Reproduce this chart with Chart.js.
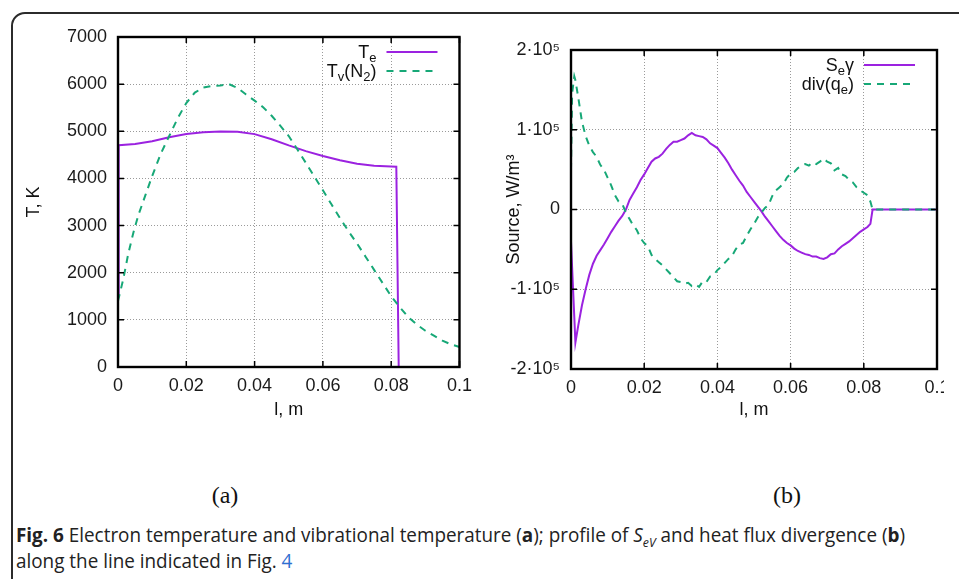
<!DOCTYPE html>
<html>
<head>
<meta charset="utf-8">
<script src="https://cdn.jsdelivr.net/npm/chart.js@4.4.0/dist/chart.umd.min.js"></script>
<style>
  html, body { margin: 0; padding: 0; background: #fff; width: 959px; height: 579px; overflow: hidden; }
  #frame { position: absolute; left: 11px; top: 12px; width: 1000px; height: 640px; border: 2px solid #2b2b2b; border-radius: 14px; }
  #tempChart { position: absolute; left: 0; top: 0; }
  #rightWrap { position: absolute; left: 480px; top: 0; width: 464px; height: 430px; overflow: hidden; }
  .panel { position: absolute; top: 482px; font-family: "Liberation Serif", serif; font-size: 24px; color: #111; transform: translateX(-50%); }
  #caption { position: absolute; left: 16px; top: 522px; font-family: "Open Sans", sans-serif; font-size: 20px; line-height: 26px; color: #222; white-space: nowrap; transform-origin: 0 0; }
  #caption sub { font-size: 13px; line-height: 0; }
  #caption .link { color: #2f6fd0; }
</style>
</head>
<body>
<div id="frame"></div>
<canvas id="tempChart" width="480" height="430"></canvas>
<div id="rightWrap"><canvas id="sourceChart" width="479" height="430"></canvas></div>
<div class="panel" style="left:225px">(a)</div>
<div class="panel" style="left:787px">(b)</div>
<div id="caption"><b>Fig. 6</b> Electron temperature and vibrational temperature (<b>a</b>); profile of <i>S<sub>eV</sub></i> and heat flux divergence (<b>b</b>)<br>along the line indicated in Fig. <span class="link">4</span></div>

<script>
// ---- data (a): temperatures along the line ----
const teLength = [0, 0.0002, 0.005, 0.01, 0.015, 0.02, 0.025, 0.03, 0.035, 0.04,
  0.045, 0.05, 0.055, 0.06, 0.065, 0.07, 0.075, 0.08, 0.0815, 0.0822];
const teTemp = [1500, 4705, 4730, 4790, 4875, 4940, 4982, 4997, 4990, 4940,
  4830, 4700, 4580, 4475, 4385, 4310, 4268, 4255, 4250, 0];

const tvLength = [0, 0.0015, 0.003, 0.0045, 0.006, 0.008, 0.01,
  0.0125, 0.015, 0.0175, 0.02, 0.0225, 0.025, 0.0275, 0.03, 0.0325, 0.035,
  0.0375, 0.04, 0.0425, 0.045, 0.0475, 0.05, 0.0525, 0.055, 0.0575, 0.06,
  0.0625, 0.065, 0.0675, 0.07, 0.0725, 0.075, 0.0775, 0.08, 0.0825, 0.085,
  0.0875, 0.09, 0.0925, 0.095, 0.0975, 0.1];
const tvTemp = [1400, 1850, 2400, 2850, 3230, 3640, 4050,
  4520, 4900, 5280, 5600, 5820, 5930, 5960, 5970, 6000, 5920,
  5780, 5650, 5510, 5330, 5120, 4900, 4620, 4330, 4040, 3750,
  3450, 3160, 2880, 2620, 2340, 2060, 1780, 1500, 1270, 1060,
  900, 770, 665, 560, 480, 425];

// ---- data (b): source terms, W/m^3 ----
const sourceLength = [0, 0.0003, 0.0009, 0.0012,
  0.002, 0.003, 0.004, 0.005, 0.006, 0.007, 0.008, 0.009, 0.010, 0.011,
  0.012, 0.013, 0.014, 0.015, 0.016, 0.017, 0.018, 0.019, 0.020, 0.021,
  0.022, 0.023, 0.024, 0.025, 0.026, 0.027, 0.028, 0.029, 0.030, 0.031,
  0.032, 0.033, 0.034, 0.035, 0.036, 0.037, 0.038, 0.039, 0.040, 0.041,
  0.042, 0.043, 0.044, 0.045, 0.046, 0.047, 0.048, 0.049, 0.050, 0.051,
  0.052, 0.053, 0.054, 0.055, 0.056, 0.057, 0.058, 0.059, 0.060, 0.061,
  0.062, 0.063, 0.064, 0.065, 0.066, 0.067, 0.068, 0.069, 0.070, 0.071,
  0.072, 0.073, 0.074, 0.075, 0.076, 0.077, 0.078, 0.079, 0.080, 0.081,
  0.0818, 0.0824, 0.1];
const sevSource = [-40000, -72000, -135000, -167000,
  -145000, -120000, -100000, -82000, -68000, -58000, -51000, -44000, -36000, -28000,
  -21000, -14000, -8000, 0, 12000, 20000, 28000, 37000, 44000, 52000,
  60000, 64000, 66000, 70000, 76000, 81000, 85000, 85000, 87000, 89000,
  93000, 96000, 93000, 92000, 91000, 88000, 83000, 80000, 77000, 71000,
  65000, 58000, 50000, 43000, 36000, 30000, 22000, 16000, 10000, 4000,
  -2000, -9000, -15000, -21000, -27000, -33000, -38000, -42000, -45000, -49000,
  -52000, -54000, -56000, -57000, -59000, -59000, -61000, -62000, -60000, -56000,
  -55000, -50000, -46000, -43000, -40000, -36000, -32000, -28000, -25000, -22000,
  -18000, 0, 0];
const divSource = [50000, 145000, 167000, 162000,
  140000, 110000, 92000, 80000, 72000, 66000, 56000, 50000, 40000, 30000,
  18000, 10000, 7000, -4000, -12000, -20000, -26000, -36000, -42000, -46000,
  -57000, -62000, -66000, -70000, -75000, -80000, -85000, -90000, -91000, -93000,
  -92000, -96000, -94000, -97000, -90000, -91000, -84000, -82000, -76000, -72000,
  -67000, -62000, -58000, -50000, -44000, -42000, -33000, -25000, -18000, -10000,
  -4000, 2000, 6000, 17000, 24000, 28000, 32000, 40000, 45000, 47000,
  52000, 55000, 57000, 55000, 59000, 57000, 60000, 64000, 60000, 58000,
  49000, 52000, 44000, 42000, 37000, 34000, 28000, 24000, 21000, 18000,
  10000, 0, 0];

// ---- tick labels ----
const lengthTicks = ['0', '0.02', '0.04', '0.06', '0.08', '0.1'];
const tempTicks = ['0', '1000', '2000', '3000', '4000', '5000', '6000', '7000'];
const sourceTicks = ['-2·10⁵', '-1·10⁵', '0', '1·10⁵', '2·10⁵'];

const purple = '#9b22e0';
const green = '#17a877';
const tickFont = { family: 'Liberation Sans, Arial, sans-serif', size: 18 };
const titleFont = { family: 'Liberation Sans, Arial, sans-serif', size: 18 };

function pts(xs, ys) {
  return xs.map((x, i) => ({ x: x, y: ys[i] }));
}

// small "T_{e}" style markup -> segments
function parseRich(s) {
  const segs = [];
  const re = /([_^])\{([^}]*)\}|([^_^]+)/g;
  let m;
  while ((m = re.exec(s))) {
    if (m[3]) segs.push({ t: m[3], k: 'n' });
    else segs.push({ t: m[2], k: m[1] === '_' ? 'sub' : 'sup' });
  }
  return segs;
}

// gnuplot-like key: text right aligned, line sample on the right
const keyLegend = {
  id: 'keyLegend',
  afterDraw(chart) {
    const { ctx, chartArea: a } = chart;
    ctx.save();
    chart.data.datasets.forEach((ds, i) => {
      const y = a.top + 15 + i * 19;
      ctx.strokeStyle = ds.borderColor;
      ctx.lineWidth = 2;
      ctx.setLineDash(ds.borderDash || []);
      ctx.beginPath();
      ctx.moveTo(a.right - 73, y);
      ctx.lineTo(a.right - 22, y);
      ctx.stroke();
      ctx.setLineDash([]);

      const segs = parseRich(ds.label);
      const fontFor = k => (k === 'n' ? 18 : 13) + 'px Liberation Sans, Arial, sans-serif';
      let w = 0;
      segs.forEach(s => { ctx.font = fontFor(s.k); w += ctx.measureText(s.t).width; });
      let x = a.right - 83 - w;
      ctx.fillStyle = '#111';
      ctx.textBaseline = 'alphabetic';
      ctx.textAlign = 'left';
      segs.forEach(s => {
        ctx.font = fontFor(s.k);
        const dy = s.k === 'sub' ? 4 : (s.k === 'sup' ? -7 : 0);
        ctx.fillText(s.t, x, y + 6 + dy);
        x += ctx.measureText(s.t).width;
      });
    });
    ctx.restore();
  }
};

// black border round the plot and inward tics on all sides
const plotBorder = {
  id: 'plotBorder',
  afterDatasetsDraw(chart) {
    const { ctx, chartArea: a, scales } = chart;
    ctx.save();
    ctx.strokeStyle = '#000';
    ctx.lineWidth = 1.5;
    ctx.beginPath();
    scales.x.ticks.forEach(t => {
      const px = scales.x.getPixelForValue(t.value);
      ctx.moveTo(px, a.bottom); ctx.lineTo(px, a.bottom - 6);
      ctx.moveTo(px, a.top); ctx.lineTo(px, a.top + 6);
    });
    scales.y.ticks.forEach(t => {
      const py = scales.y.getPixelForValue(t.value);
      ctx.moveTo(a.left, py); ctx.lineTo(a.left + 6, py);
      ctx.moveTo(a.right, py); ctx.lineTo(a.right - 6, py);
    });
    ctx.stroke();
    ctx.lineWidth = 2.4;
    ctx.strokeRect(a.left, a.top, a.right - a.left, a.bottom - a.top);
    ctx.restore();
  }
};

function gridOpts() {
  return { color: '#9a9a9a', lineWidth: 1, drawTicks: false };
}

function makeChart(id, datasets, cfg) {
  return new Chart(document.getElementById(id), {
    type: 'line',
    data: { datasets: datasets },
    plugins: [plotBorder, keyLegend],
    options: {
      responsive: false,
      animation: false,
      devicePixelRatio: 1,
      layout: { padding: cfg.padding },
      elements: { point: { radius: 0 }, line: { tension: 0 } },
      plugins: { legend: { display: false }, tooltip: { enabled: false } },
      scales: {
        x: {
          type: 'linear', min: 0, max: 0.1,
          grid: gridOpts(),
          border: { display: false, dash: [1, 2] },
          ticks: { stepSize: 0.02, font: tickFont, color: '#1a1a1a', padding: 8, maxRotation: 0,
            callback: (v, i) => lengthTicks[i] },
          title: { display: true, text: 'l, m', font: titleFont, color: '#111', padding: { top: 0, bottom: 9 } },
          afterFit: s => { s.height = cfg.xHeight; }
        },
        y: {
          type: 'linear', min: cfg.yMin, max: cfg.yMax,
          grid: gridOpts(),
          border: { display: false, dash: [1, 2] },
          ticks: { stepSize: cfg.yStep, font: tickFont, color: '#1a1a1a', padding: 11,
            callback: (v, i) => cfg.yLabels[i] },
          title: { display: true, text: cfg.yTitle, font: titleFont, color: '#111', padding: { top: cfg.yTitlePad, bottom: 0 } },
          afterFit: s => { s.width = cfg.yWidth; }
        }
      }
    }
  });
}

// (a) temperatures
makeChart('tempChart', [
  { label: 'T_{e}', data: pts(teLength, teTemp), borderColor: purple, borderWidth: 2, order: 1 },
  { label: 'T_{v}(N_{2})', data: pts(tvLength, tvTemp), borderColor: green, borderWidth: 2, borderDash: [7, 6], order: 0 }
], {
  padding: { top: 37, right: 18, left: 0, bottom: 0 },
  xHeight: 63, yWidth: 118, yTitlePad: 23,
  yMin: 0, yMax: 7000, yStep: 1000, yLabels: tempTicks, yTitle: 'T, K'
});

// (b) source terms
makeChart('sourceChart', [
  { label: 'S_{e}γ', data: pts(sourceLength, sevSource), borderColor: purple, borderWidth: 2, order: 1 },
  { label: 'div(q_{e})', data: pts(sourceLength, divSource), borderColor: green, borderWidth: 2, borderDash: [7, 6], order: 0 }
], {
  padding: { top: 50, right: 22, left: 0, bottom: 0 },
  xHeight: 61, yWidth: 91, yTitlePad: 23,
  yMin: -200000, yMax: 200000, yStep: 100000, yLabels: sourceTicks, yTitle: 'Source, W/m³'
});

// squeeze caption to the width of the original condensed face
const cap = document.getElementById('caption');
cap.style.transform = 'scaleX(' + (889 / cap.offsetWidth) + ')';
</script>
</body>
</html>
